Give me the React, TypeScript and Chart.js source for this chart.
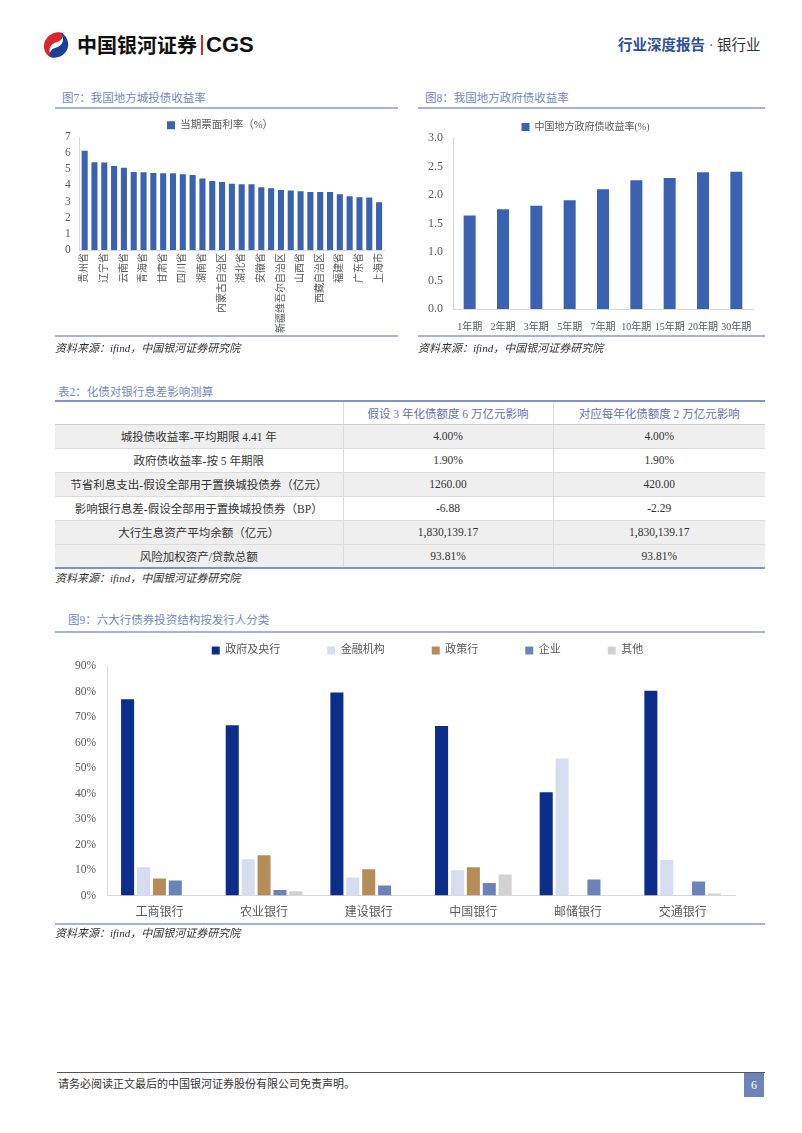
import React, { useEffect, useRef } from "react";
import { Chart, registerables } from "chart.js";
Chart.register(...registerables);

const SERIF = "'Liberation Serif', 'Noto Sans CJK SC', serif";
const SANS = "'Noto Sans CJK SC', 'Liberation Sans', sans-serif";
const TICK = "#595959";

// ---- Figure 7 data ----
const provinces = [
  "贵州省", "天津市", "辽宁省", "吉林省", "云南省", "广西壮族自治区", "青海省", "黑龙江省",
  "甘肃省", "宁夏回族自治区", "四川省", "重庆市", "湖南省", "陕西省", "内蒙古自治区", "河南省",
  "湖北省", "江西省", "安徽省", "山东省", "新疆维吾尔自治区", "河北省", "山西省", "海南省",
  "西藏自治区", "江苏省", "福建省", "浙江省", "广东省", "北京市", "上海市",
];
const couponRates = [
  6.15, 5.44, 5.42, 5.21, 5.09, 4.83, 4.81, 4.77, 4.75, 4.75, 4.69, 4.64, 4.43, 4.27, 4.22, 4.1,
  4.08, 4.08, 3.89, 3.83, 3.72, 3.68, 3.64, 3.6, 3.6, 3.6, 3.46, 3.33, 3.27, 3.25, 2.96,
];
const couponLabel = "当期票面利率（%）";

// ---- Figure 8 data ----
const govTerms = ["1年期", "2年期", "3年期", "5年期", "7年期", "10年期", "15年期", "20年期", "30年期"];
const govYields = [1.64, 1.75, 1.81, 1.91, 2.1, 2.26, 2.3, 2.4, 2.41];
const govLabel = "中国地方政府债收益率(%)";

// ---- Figure 9 data ----
const banks = ["工商银行", "农业银行", "建设银行", "中国银行", "邮储银行", "交通银行"];
const issuerNames = ["政府及央行", "金融机构", "政策行", "企业", "其他"];
const shareGov = [77.0, 66.8, 79.6, 66.5, 40.5, 80.3];
const shareFin = [11.1, 14.2, 7.1, 9.9, 53.7, 14.0];
const sharePolicy = [6.7, 15.8, 10.3, 11.1, 0, 0];
const shareCorp = [5.9, 2.2, 4.0, 4.9, 6.3, 5.5];
const shareOther = [0, 1.7, 0, 8.3, 0, 0.8];
const issuerColors = ["#0c2d89", "#d4def0", "#b48d58", "#6a84b9", "#d2d2d2"];

// ---- Table data ----
const tableTitle = "表2：化债对银行息差影响测算";
const tableHead = ["", "假设 3 年化债额度 6 万亿元影响", "对应每年化债额度 2 万亿元影响"];
const tableRowNames = [
  "城投债收益率-平均期限 4.41 年",
  "政府债收益率-按 5 年期限",
  "节省利息支出-假设全部用于置换城投债券（亿元）",
  "影响银行息差-假设全部用于置换城投债券（BP）",
  "大行生息资产平均余额（亿元）",
  "风险加权资产/贷款总额",
];
const tableCol1 = ["4.00%", "1.90%", "1260.00", "-6.88", "1,830,139.17", "93.81%"];
const tableCol2 = ["4.00%", "1.90%", "420.00", "-2.29", "1,830,139.17", "93.81%"];
const rowShaded = [true, false, true, false, true, true];

const sourceText = "资料来源：ifind，中国银河证券研究院";

function ChartCanvas(props: { left: number; top: number; width: number; height: number; make: () => any }) {
  const ref = useRef<HTMLCanvasElement>(null);
  useEffect(() => {
    const chart = new Chart(ref.current as HTMLCanvasElement, props.make());
    return () => chart.destroy();
  }, []);
  return (
    <canvas
      ref={ref}
      width={props.width}
      height={props.height}
      style={{ position: "absolute", left: props.left, top: props.top, width: props.width, height: props.height }}
    />
  );
}

const axisBorder = { display: true, color: "#d9d9d9", width: 1 };

// shifts the legend block horizontally (the reference centres it on the plot, not the canvas)
const legendShift = (dx: number) => ({
  id: "legendShift",
  afterLayout(chart: any) {
    if (chart.legend) {
      chart.legend.left += dx;
      chart.legend.right += dx;
    }
  },
});

function makeFig7() {
  return {
    type: "bar",
    data: {
      labels: provinces,
      datasets: [
        { label: couponLabel, data: couponRates, backgroundColor: "#3b62b1", barPercentage: 0.62, categoryPercentage: 1 },
      ],
    },
    options: {
      responsive: false,
      animation: false,
      layout: { padding: { left: 1, right: 14, top: 2, bottom: 0 } },
      plugins: {
        legend: {
          position: "top",
          maxHeight: 23,
          labels: { boxWidth: 8, boxHeight: 8, padding: 6, color: TICK, font: { size: 10.5, family: SERIF } },
        },
        tooltip: { enabled: false },
      },
      scales: {
        x: {
          grid: { display: false, drawTicks: false },
          border: axisBorder,
          ticks: {
            autoSkip: false,
            minRotation: 90,
            maxRotation: 90,
            padding: 3,
            color: TICK,
            font: { size: 10, family: SERIF },
            callback: (_v: any, i: number) => (i % 2 === 0 ? provinces[i] : ""),
          },
        },
        y: {
          min: 0,
          max: 7,
          grid: { display: false, drawTicks: false },
          border: axisBorder,
          ticks: { stepSize: 1, autoSkip: false, padding: 9, color: TICK, font: { size: 11.5, family: SERIF } },
        },
      },
    },
  };
}

function makeFig8() {
  return {
    type: "bar",
    data: {
      labels: govTerms,
      datasets: [{ label: govLabel, data: govYields, backgroundColor: "#3b62b1", barPercentage: 0.36, categoryPercentage: 1 }],
    },
    options: {
      responsive: false,
      animation: false,
      layout: { padding: { left: 0, right: 12, top: 4, bottom: 0 } },
      plugins: {
        legend: {
          position: "top",
          maxHeight: 22,
          labels: { boxWidth: 8, boxHeight: 8, padding: 6, color: TICK, font: { size: 10, family: SERIF } },
        },
        tooltip: { enabled: false },
      },
      scales: {
        x: {
          grid: { display: false, drawTicks: false },
          border: axisBorder,
          ticks: { autoSkip: false, maxRotation: 0, padding: 12, color: TICK, font: { size: 10, family: SERIF } },
        },
        y: {
          min: 0,
          max: 3,
          grid: { display: false, drawTicks: false },
          border: axisBorder,
          ticks: {
            stepSize: 0.5,
            autoSkip: false,
            padding: 10,
            color: TICK,
            font: { size: 12, family: SERIF },
            callback: (v: any) => Number(v).toFixed(1),
          },
        },
      },
    },
  };
}

function makeFig9() {
  const series = [shareGov, shareFin, sharePolicy, shareCorp, shareOther];
  return {
    type: "bar",
    data: {
      labels: banks,
      datasets: series.map((d, k) => ({
        label: issuerNames[k],
        data: d,
        backgroundColor: issuerColors[k],
        barPercentage: 0.82,
        categoryPercentage: 0.76,
      })),
    },
    plugins: [legendShift(28)],
    options: {
      responsive: false,
      animation: false,
      layout: { padding: { left: 9, right: 30, top: 0, bottom: 0 } },
      plugins: {
        legend: {
          position: "top",
          labels: { boxWidth: 8, boxHeight: 8, padding: 47, color: TICK, font: { size: 11, family: SERIF } },
        },
        tooltip: { enabled: false },
      },
      scales: {
        x: {
          grid: { display: false, drawTicks: false },
          border: axisBorder,
          ticks: { maxRotation: 0, padding: 10, color: TICK, font: { size: 12, family: SERIF } },
        },
        y: {
          min: 0,
          max: 90,
          grid: { display: false, drawTicks: false },
          border: axisBorder,
          ticks: {
            stepSize: 10,
            autoSkip: false,
            padding: 11,
            color: TICK,
            font: { size: 11.5, family: SERIF },
            callback: (v: any) => v + "%",
          },
        },
      },
    },
  };
}

const abs = (left: number, top: number, extra: any = {}) => ({ position: "absolute" as const, left, top, ...extra });

function FigTitle(props: { left: number; top: number; lineLeft: number; lineWidth: number; lineTop: number; text: string }) {
  return (
    <>
      <div style={abs(props.left, props.top, { fontSize: 11.5, color: "#7388bf", whiteSpace: "nowrap", lineHeight: "14px" })}>
        {props.text}
      </div>
      <div style={abs(props.lineLeft, props.lineTop, { width: props.lineWidth, height: 2, background: "#a6b3d6" })} />
    </>
  );
}

function Source(props: { left: number; top: number; lineLeft: number; lineWidth: number; lineTop: number }) {
  return (
    <>
      <div style={abs(props.lineLeft, props.lineTop, { width: props.lineWidth, height: 2, background: "#a6b3d6" })} />
      <div
        style={abs(props.left, props.top, {
          fontSize: 11,
          fontStyle: "italic",
          color: "#333",
          whiteSpace: "nowrap",
          lineHeight: "14px",
        })}
      >
        {sourceText}
      </div>
    </>
  );
}

function Logo() {
  return (
    <svg width="30" height="30" viewBox="0 0 30 30" style={abs(41, 30)}>
      <path d="M22 3 C12 0, 2 8, 3 18 C4 24, 8 27, 12 28 C6 22, 8 14, 16 12 C20 11, 23 7, 22 3 Z" fill="#d8262c" />
      <path d="M9 27 C19 30, 29 22, 27 12 C26 7, 23 4, 20 3 C24 9, 22 16, 14 18 C10 19, 8 23, 9 27 Z" fill="#1d3f98" />
    </svg>
  );
}

function DataTable() {
  const cellBase = { fontSize: 11.5, color: "#333", textAlign: "center" as const, padding: 0, whiteSpace: "nowrap" as const };
  const colW = [288, 210, 212];
  return (
    <table
      style={abs(55, 400, {
        width: 710,
        borderCollapse: "collapse",
        tableLayout: "fixed",
        borderTop: "2px solid #8193c2",
        borderBottom: "2px solid #8193c2",
        fontFamily: SERIF,
      })}
    >
      <colgroup>
        {colW.map((w, i) => (
          <col key={i} style={{ width: w }} />
        ))}
      </colgroup>
      <tbody>
        <tr style={{ height: 23 }}>
          {tableHead.map((h, i) => (
            <td
              key={i}
              style={{
                ...cellBase,
                color: "#5d72aa",
                borderLeft: i > 0 ? "1px solid #dcdcdc" : "none",
                borderBottom: "1px solid #cfcfcf",
              }}
            >
              {h}
            </td>
          ))}
        </tr>
        {tableRowNames.map((name, r) => (
          <tr key={r} style={{ height: 24, background: rowShaded[r] ? "#efefef" : "#fff" }}>
            {[name, tableCol1[r], tableCol2[r]].map((c, i) => (
              <td
                key={i}
                style={{
                  ...cellBase,
                  borderLeft: i > 0 ? "1px solid #dcdcdc" : "none",
                  borderBottom: r < tableRowNames.length - 1 ? "1px solid #dcdcdc" : "none",
                }}
              >
                {c}
              </td>
            ))}
          </tr>
        ))}
      </tbody>
    </table>
  );
}

export default function App() {
  return (
    <div
      style={{
        position: "absolute",
        left: 0,
        top: 0,
        width: 802,
        height: 1133,
        background: "#fff",
        overflow: "hidden",
        fontFamily: SERIF,
      }}
    >
      {/* Header */}
      <Logo />
      <div
        style={abs(77, 31, {
          fontFamily: SANS,
          fontWeight: 700,
          fontSize: 20,
          lineHeight: "28px",
          color: "#111",
          whiteSpace: "nowrap",
        })}
      >
        中国银河证券
      </div>
      <div style={abs(201, 35, { width: 2, height: 20, background: "#d8262c" })} />
      <div
        style={abs(206, 30, {
          fontFamily: "'Liberation Sans', Arial, sans-serif",
          fontWeight: 700,
          fontSize: 22,
          lineHeight: "30px",
          color: "#111",
        })}
      >
        CGS
      </div>
      <div style={abs(618, 35, { fontSize: 14.5, lineHeight: "20px", whiteSpace: "nowrap" })}>
        <span style={{ color: "#2d4f9e", fontWeight: 700 }}>行业深度报告</span>
        <span style={{ color: "#555" }}>&nbsp;·&nbsp;</span>
        <span style={{ color: "#333" }}>银行业</span>
      </div>

      {/* Figure 7 */}
      <FigTitle left={62} top={91} lineLeft={55} lineWidth={343} lineTop={107} text="图7：我国地方城投债收益率" />
      <ChartCanvas left={55} top={112} width={343} height={224} make={makeFig7} />
      <Source left={55} top={341} lineLeft={55} lineWidth={343} lineTop={335} />

      {/* Figure 8 */}
      <FigTitle left={425} top={91} lineLeft={418} lineWidth={347} lineTop={107} text="图8：我国地方政府债收益率" />
      <ChartCanvas left={418} top={112} width={347} height={233} make={makeFig8} />
      <Source left={418} top={341} lineLeft={418} lineWidth={347} lineTop={335} />

      {/* Table */}
      <div style={abs(58, 385, { fontSize: 11.5, color: "#7388bf", whiteSpace: "nowrap", lineHeight: "14px" })}>
        {tableTitle}
      </div>
      <DataTable />
      <div
        style={abs(55, 571, { fontSize: 11, fontStyle: "italic", color: "#333", whiteSpace: "nowrap", lineHeight: "14px" })}
      >
        {sourceText}
      </div>

      {/* Figure 9 */}
      <FigTitle left={68} top={613} lineLeft={55} lineWidth={710} lineTop={631} text="图9：六大行债券投资结构按发行人分类" />
      <ChartCanvas left={55} top={598} width={710} height={332} make={makeFig9} />
      <Source left={55} top={926} lineLeft={55} lineWidth={710} lineTop={923} />

      {/* Footer */}
      <div style={abs(57, 1072, { width: 708, height: 1, background: "#555" })} />
      <div style={abs(58, 1077, { fontSize: 11, color: "#333", whiteSpace: "nowrap", lineHeight: "14px" })}>
        请务必阅读正文最后的中国银河证券股份有限公司免责声明。
      </div>
      <div
        style={abs(744, 1073, {
          width: 20,
          height: 24,
          background: "#6d83b9",
          color: "#fff",
          fontSize: 12,
          lineHeight: "24px",
          textAlign: "center",
        })}
      >
        6
      </div>
    </div>
  );
}
